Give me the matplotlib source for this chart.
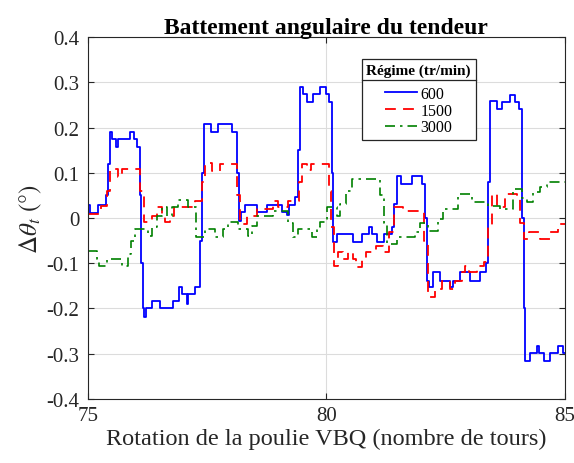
import matplotlib
matplotlib.use("Agg")
import matplotlib.pyplot as plt
from matplotlib.lines import Line2D

plt.rcParams['font.family'] = ['Liberation Serif', 'DejaVu Serif']
plt.rcParams['mathtext.fontset'] = 'stix'

# Step breakpoints (tours) and levels (deg) for each regime
x_600 = [75.00, 75.05, 75.21, 75.38, 75.42, 75.46, 75.50, 75.59, 75.63, 75.88,
         75.96, 76.03, 76.09, 76.12, 76.15, 76.18, 76.22, 76.34, 76.51, 76.78,
         76.91, 76.97, 77.08, 77.11, 77.24, 77.35, 77.39, 77.43, 77.58, 77.73,
         78.02, 78.12, 78.16, 78.22, 78.29, 78.54, 78.75, 79.07, 79.17, 79.21,
         79.34, 79.40, 79.45, 79.51, 79.59, 79.72, 79.86, 79.99, 80.05, 80.12,
         80.15, 80.22, 80.56, 80.74, 80.89, 80.95, 81.06, 81.21, 81.37, 81.42,
         81.48, 81.56, 81.79, 82.00, 82.07, 82.11, 82.15, 82.23, 82.38, 82.59,
         82.65, 82.80, 83.01, 83.22, 83.34, 83.39, 83.43, 83.57, 83.68, 83.85,
         83.95, 84.04, 84.10, 84.14, 84.16, 84.27, 84.41, 84.45, 84.56, 84.69,
         84.85, 84.96, 85.00]
y_600 = [0.029, 0.011, 0.029, 0.050, 0.120, 0.190, 0.175, 0.157, 0.175, 0.190,
         0.175, 0.157, 0.050, -0.100, -0.200, -0.218, -0.200, -0.183, -0.200, -0.183,
         -0.153, -0.168, -0.190, -0.168, -0.153, -0.050, 0.100, 0.208, 0.190, 0.208,
         0.190, 0.100, -0.006, 0.013, 0.029, 0.013, 0.029, 0.013, 0.006, 0.029,
         0.046, 0.150, 0.290, 0.274, 0.256, 0.274, 0.290, 0.274, 0.256, 0.100,
         -0.053, -0.035, -0.053, -0.035, -0.020, -0.035, -0.053, -0.035, -0.020, 0.030,
         0.093, 0.075, 0.093, 0.075, 0.000, -0.139, -0.153, -0.120, -0.139, -0.153,
         -0.139, -0.120, -0.139, -0.120, -0.100, 0.080, 0.259, 0.241, 0.256, 0.272,
         0.256, 0.241, 0.000, -0.200, -0.316, -0.298, -0.283, -0.298, -0.316, -0.298,
         -0.283, -0.298, -0.298]

x_1500 = [75.00, 75.27, 75.40, 75.46, 75.63, 75.71, 76.09, 76.17, 76.34, 76.45,
          76.55, 76.61, 76.72, 76.80, 77.24, 77.39, 77.46, 77.60, 77.77, 78.12,
          78.18, 78.33, 78.54, 78.88, 78.99, 79.20, 79.42, 79.48, 79.59, 79.68,
          80.05, 80.10, 80.16, 80.24, 80.35, 80.45, 80.56, 80.62, 80.74, 80.84,
          81.05, 81.18, 81.31, 81.42, 81.60, 82.05, 82.13, 82.28, 82.42, 82.59,
          82.69, 82.84, 82.90, 83.00, 83.16, 83.30, 83.40, 83.47, 83.58, 83.75,
          84.00, 84.07, 84.14, 84.25, 84.48, 84.69, 84.85, 85.00]
y_1500 = [0.009, 0.027, 0.060, 0.108, 0.090, 0.108, 0.060, -0.009, 0.005, 0.024,
          0.005, -0.009, 0.005, 0.024, 0.038, 0.080, 0.122, 0.104, 0.120, 0.050,
          -0.013, 0.005, 0.020, 0.038, 0.024, 0.038, 0.080, 0.120, 0.106, 0.120,
          0.060, -0.020, -0.106, -0.075, -0.090, -0.075, -0.090, -0.108, -0.090, -0.075,
          -0.062, -0.075, -0.030, 0.024, 0.016, -0.050, -0.175, -0.157, -0.139, -0.157,
          -0.139, -0.120, -0.106, -0.120, -0.106, -0.097, -0.020, 0.053, 0.024, 0.053,
          0.045, -0.010, -0.046, -0.031, -0.046, -0.031, -0.013, -0.013]

x_3000 = [75.00, 75.19, 75.24, 75.40, 75.71, 75.84, 75.90, 75.98, 76.26, 76.34,
          76.45, 76.55, 76.65, 76.76, 76.89, 77.10, 77.27, 77.45, 77.66, 77.83,
          77.94, 78.14, 78.35, 78.44, 78.54, 78.88, 79.19, 79.30, 79.40, 79.70,
          79.80, 79.86, 80.01, 80.22, 80.28, 80.41, 80.53, 81.12, 81.21, 81.27,
          81.48, 81.86, 81.96, 82.13, 82.34, 82.44, 82.76, 83.05, 83.39, 83.64,
          83.91, 84.10, 84.20, 84.33, 84.48, 84.62, 85.00]
y_3000 = [-0.073, -0.090, -0.106, -0.090, -0.106, -0.080, -0.050, -0.024, -0.040, -0.020,
          0.005, 0.024, 0.005, 0.024, 0.040, 0.024, -0.042, -0.024, -0.042, -0.024,
          -0.009, -0.024, -0.040, -0.018, 0.005, 0.016, -0.010, -0.042, -0.024, -0.042,
          -0.020, -0.009, 0.024, 0.005, 0.030, 0.060, 0.086, 0.050, -0.010, -0.057,
          -0.042, -0.031, -0.011, -0.029, -0.002, 0.020, 0.053, 0.035, 0.027, 0.020,
          0.064, 0.045, 0.035, 0.057, 0.068, 0.080, 0.080]

fig = plt.figure(figsize=(5.74, 4.64), dpi=100)
ax = fig.add_axes([0.153, 0.138, 0.831, 0.780])

ax.plot(x_600, y_600, color='#0000ff', lw=1.3, drawstyle='steps-post', label='600')
ax.plot(x_1500, y_1500, color='#ff0000', lw=1.3, ls=(0, (6, 4)),
        drawstyle='steps-post', label='1500')
ax.plot(x_3000, y_3000, color='#008000', lw=1.2, ls=(0, (6, 3, 1.5, 3)),
        drawstyle='steps-post', label='3000')

ax.set_xlim(75, 85)
ax.set_ylim(-0.4, 0.4)
ax.set_xticks([75, 80, 85])
ax.set_yticks([-0.4, -0.3, -0.2, -0.1, 0, 0.1, 0.2, 0.3, 0.4])
ax.set_yticklabels(['-0.4', '-0.3', '-0.2', '-0.1', '0', '0.1', '0.2', '0.3', '0.4'])
ax.grid(True, color='#dcdcdc', lw=0.8)
ax.set_axisbelow(True)
ax.tick_params(direction='in', top=True, right=True, labelsize=15, length=4,
               color='#262626', labelcolor='#262626')
ax.tick_params(axis='x', pad=5)
ax.tick_params(axis='y', pad=6)
for s in ax.spines.values():
    s.set_color('#262626')
    s.set_linewidth(0.8)

ax.set_title('Battement angulaire du tendeur', fontsize=17, fontweight='bold', pad=3)
ax.set_xlabel('Rotation de la poulie VBQ (nombre de tours)', fontsize=17.5,
              color='#262626', labelpad=2)
ax.set_ylabel(r'$\Delta\theta_t$ $(°)$', fontsize=18, color='#262626', labelpad=2)

leg = ax.legend(title='Régime (tr/min)', loc='upper left', bbox_to_anchor=(0.574, 0.939),
                borderaxespad=0,
                fontsize=11.5, title_fontproperties={'weight': 'bold', 'size': 11},
                fancybox=False, edgecolor='#262626', framealpha=1,
                handlelength=2.0, handletextpad=0.2, labelspacing=0.05,
                borderpad=0.3)
leg.get_frame().set_linewidth(0.9)
# extra room between the title and the entries
leg._legend_box.sep = 6

# separator under the legend title
fig.canvas.draw()
fb = leg.get_frame().get_window_extent()
tb = leg.get_title().get_window_extent()
inv = fig.transFigure.inverted()
(x0, y_sep), = inv.transform([(fb.x0, tb.y0 - 3)])
(x1, _), = inv.transform([(fb.x1, tb.y0 - 3)])
fig.add_artist(Line2D([x0, x1], [y_sep, y_sep], color='#262626', lw=0.9,
                      transform=fig.transFigure))

fig.savefig('out.png', dpi=100)
